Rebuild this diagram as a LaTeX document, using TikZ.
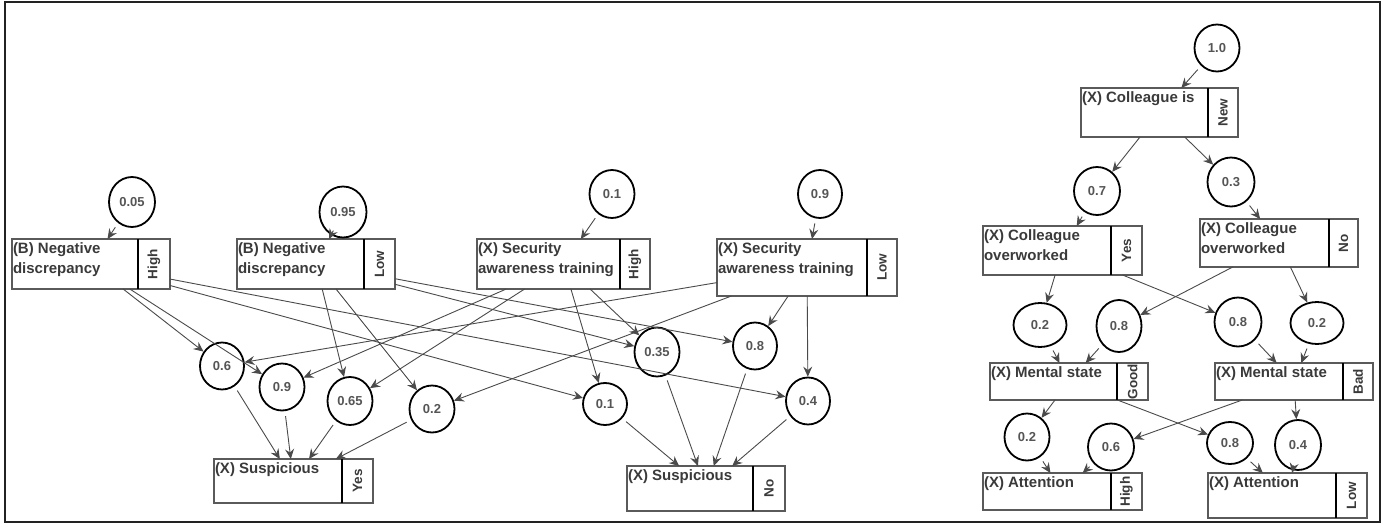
\documentclass[tikz,border=0pt]{standalone}
\usepackage{fontspec}
\setmainfont{Liberation Sans}
\usetikzlibrary{arrows.meta,shapes.geometric,calc}

\definecolor{edgegray}{HTML}{4A4A4A}
\definecolor{textgray}{HTML}{3A3A3A}
\definecolor{probgray}{HTML}{555555}
\definecolor{boxgray}{HTML}{5A5A5A}
\definecolor{framecol}{HTML}{222222}

\tikzset{
  prob/.style={ellipse, draw=black, line width=1.8pt, inner sep=0pt,
    font=\fontsize{13}{14}\selectfont\bfseries, text=probgray},
  boxframe/.style={draw=boxgray, line width=1.1pt, inner sep=0pt, outer sep=0pt},
  boxtext/.style={inner xsep=0.8pt, inner ysep=3.5pt, align=left,
    font=\fontsize{15}{20}\selectfont\bfseries, text=textgray},
  statetext/.style={inner sep=0pt, rotate=90,
    font=\fontsize{13.5}{15}\selectfont\bfseries, text=textgray},
  divider/.style={draw=black, line width=2pt},
  link/.style={draw=edgegray, line width=0.9pt,
    -{Stealth[length=10pt,width=9pt,inset=3.5pt]}},
  fromprob/.style={link, shorten <=5pt},
  framestyle/.style={draw=framecol, line width=2.5pt},
}

% probability bubble: name, x, y, width, height, value
\newcommand{\pnode}[6]{%
  \node[prob, minimum width=#4pt, minimum height=#5pt] (#1) at (#2,#3) {#6};}

% state box: name, x1, y1, x2, y2, divider x, variable text, state
\newcommand{\stbox}[8]{%
  \node[boxframe, minimum width={(#4-#2)*1pt}, minimum height={(#5-#3)*1pt}]
    (#1) at ({(#2+#4)/2},{(#3+#5)/2}) {};
  \node[boxtext, anchor=north west] (#1-t) at (#1.north west) {#7};
  \draw[divider] (#6,#3) -- (#6,#5);
  \node[statetext] (#1-s) at ({(#6+#4)/2},{(#3+#5)/2}) {#8};}

\begin{document}
\begin{tikzpicture}[x=1pt,y=-1pt]
\useasboundingbox (0,0) rectangle (1393,525);
\draw[framestyle] (5,2) rectangle (1380,522);

% ---------- Suspicious network ----------
\stbox{ndh}{12}{239}{170}{289}{138}{(B) Negative\\discrepancy}{High}
\stbox{ndl}{237}{239}{395}{289}{364}{(B) Negative\\discrepancy}{Low}
\stbox{sath}{477}{239}{650}{289}{620}{(X) Security\\awareness training}{High}
\stbox{satl}{717}{239}{897}{296}{867}{(X) Security\\awareness training}{Low}
\stbox{sy}{214}{459}{373}{503}{342}{(X) Suspicious}{Yes}
\stbox{sn}{627}{466}{785}{511}{753}{(X) Suspicious}{No}

\pnode{p05}{132}{202}{46}{50}{0.05}
\pnode{p95}{343}{212}{47}{51}{0.95}
\pnode{p01}{612}{194}{45}{48}{0.1}
\pnode{p09}{820}{194}{44}{48}{0.9}

\pnode{y06}{222}{366}{44}{47}{0.6}
\pnode{y09}{282}{387}{45}{47}{0.9}
\pnode{y065}{350}{401}{45}{48}{0.65}
\pnode{y02}{432}{409}{45}{47}{0.2}
\pnode{n035}{657}{352}{45}{49}{0.35}
\pnode{n08}{755}{346}{44}{47}{0.8}
\pnode{n01}{605}{404}{44}{42}{0.1}
\pnode{n04}{808}{401}{44}{47}{0.4}

\draw[fromprob] (p05) -- (ndh);
\draw[fromprob] (p95) -- (ndl);
\draw[fromprob] (p01) -- (sath);
\draw[fromprob] (p09) -- (satl);

\draw[link] (ndh) -- (y06);
\draw[link] (ndh) -- (y09);
\draw[link] (ndh) -- (n01);
\draw[link] (ndh) -- (n04);
\draw[link] (ndl) -- (y065);
\draw[link] (ndl) -- (y02);
\draw[link] (ndl) -- (n035);
\draw[link] (ndl) -- (n08);
\draw[link] (sath) -- (y09);
\draw[link] (sath) -- (y065);
\draw[link] (sath) -- (n01);
\draw[link] (sath) -- (n035);
\draw[link] (satl) -- (y06);
\draw[link] (satl) -- (y02);
\draw[link] (satl) -- (n08);
\draw[link] (satl) -- (n04);

\foreach \p in {y06,y09,y065,y02} \draw[fromprob] (\p) -- (sy);
\foreach \p in {n01,n035,n08,n04} \draw[fromprob] (\p) -- (sn);

% ---------- Attention network ----------
\stbox{cn}{1081}{88}{1238}{137}{1208}{(X) Colleague is}{New}
\stbox{owy}{983}{226}{1142}{275}{1111}{(X) Colleague\\overworked}{Yes}
\stbox{own}{1200}{219}{1358}{267}{1329}{(X) Colleague\\overworked}{No}
\stbox{msg}{990}{363}{1148}{400}{1117}{(X) Mental state}{Good}
\stbox{msb}{1215}{363}{1373}{400}{1343}{(X) Mental state}{Bad}
\stbox{ath}{983}{473}{1142}{510}{1111}{(X) Attention}{High}
\stbox{atl}{1208}{473}{1367}{518}{1336}{(X) Attention}{Low}

\pnode{r10}{1217}{48}{45}{47}{1.0}
\pnode{r07}{1097}{191}{46}{48}{0.7}
\pnode{r03}{1231}{182}{47}{49}{0.3}
\pnode{g02}{1040}{325}{53}{44}{0.2}
\pnode{g08}{1119}{326}{45}{52}{0.8}
\pnode{b08}{1238}{322}{47}{49}{0.8}
\pnode{b02}{1317}{323}{53}{42}{0.2}
\pnode{h02}{1027}{437}{45}{47}{0.2}
\pnode{h06}{1111}{447}{46}{47}{0.6}
\pnode{l08}{1230}{443}{46}{42}{0.8}
\pnode{l04}{1298}{445}{46}{50}{0.4}

\draw[fromprob] (r10) -- (cn);
\draw[link] (cn) -- (r07);
\draw[link] (cn) -- (r03);
\draw[fromprob] (r07) -- (owy);
\draw[fromprob] (r03) -- (own);

\draw[link] (owy) -- (g02);
\draw[link] (owy) -- (b08);
\draw[link] (own) -- (g08);
\draw[link] (own) -- (b02);
\draw[fromprob] (g02) -- (msg);
\draw[fromprob] (g08) -- (msg);
\draw[fromprob] (b08) -- (msb);
\draw[fromprob] (b02) -- (msb);

\draw[link] (msg) -- (h02);
\draw[link] (msg) -- (l08);
\draw[link] (msb) -- (h06);
\draw[link] (msb) -- (l04);
\draw[fromprob] (h02) -- (ath);
\draw[fromprob] (h06) -- (ath);
\draw[fromprob] (l08) -- (atl);
\draw[fromprob] (l04) -- (atl);
\end{tikzpicture}
\end{document}
